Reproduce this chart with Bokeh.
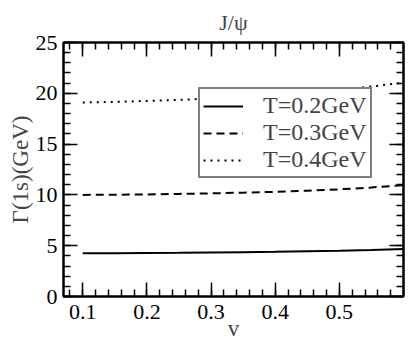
from bokeh.plotting import figure
from bokeh.models import (FixedTicker, LinearAxis, Range1d, Legend, LegendItem, Title)
from bokeh.embed import file_html
from bokeh.resources import INLINE

v = [0.10, 0.15, 0.20, 0.25, 0.30, 0.35, 0.40, 0.45, 0.50, 0.55, 0.60]
gamma_T02 = [4.25, 4.26, 4.28, 4.30, 4.33, 4.36, 4.40, 4.45, 4.50, 4.58, 4.68]
gamma_T03 = [10.00, 10.02, 10.05, 10.10, 10.15, 10.22, 10.30, 10.42, 10.55, 10.73, 10.95]
gamma_T04 = [19.10, 19.15, 19.25, 19.35, 19.50, 19.65, 19.85, 20.08, 20.35, 20.67, 21.05]
labels = ["T=0.2GeV", "T=0.3GeV", "T=0.4GeV"]
x_major = [0.1, 0.2, 0.3, 0.4, 0.5]
x_minor = [round(0.08 + 0.02 * i, 2) for i in range(27)]
y_major = [0, 5, 10, 15, 20, 25]
y_minor = list(range(0, 26))

FONT = "Liberation Serif"

p = figure(width=407, height=343, output_backend="svg", toolbar_location=None,
           x_range=Range1d(0.07, 0.6), y_range=Range1d(0, 25),
           min_border_left=63, min_border_right=4, min_border_top=41, min_border_bottom=47,
           x_axis_label="v", y_axis_label="Γ(1s)(GeV)")
p.grid.visible = False
p.outline_line_color = "black"
p.outline_line_width = 2

def style_axis(ax, ticks, minor, show_labels):
    ax.ticker = FixedTicker(ticks=ticks, minor_ticks=minor)
    ax.major_tick_in = 14
    ax.major_tick_out = 0
    ax.minor_tick_in = 7
    ax.minor_tick_out = 0
    ax.major_tick_line_width = 1.5
    ax.minor_tick_line_width = 1.5
    ax.major_tick_line_color = "black"
    ax.minor_tick_line_color = "black"
    ax.axis_line_width = 2
    ax.major_label_text_font = FONT
    ax.major_label_text_font_size = "22px"
    ax.major_label_text_color = "black"
    ax.axis_label_text_font = FONT
    ax.axis_label_text_font_size = "23px"
    ax.axis_label_text_font_style = "normal"
    ax.major_label_standoff = 6
    if not show_labels:
        ax.major_label_text_color = None
        ax.major_label_text_font_size = "1px"
        ax.major_label_standoff = 0

style_axis(p.xaxis[0], x_major, x_minor, True)
style_axis(p.yaxis[0], y_major, y_minor, True)
p.xaxis[0].major_label_standoff = 8
p.xaxis[0].axis_label_standoff = -6
p.yaxis[0].axis_label_standoff = 0

top = LinearAxis()
style_axis(top, x_major, x_minor, False)
p.add_layout(top, "above")
right = LinearAxis()
style_axis(right, y_major, y_minor, False)
p.add_layout(right, "right")

p.title = Title(text="J/ψ", align="center", text_font=FONT, text_font_size="22px",
                text_font_style="normal", standoff=15)

r1 = p.line(v, gamma_T02, line_color="black", line_width=2)
r2 = p.line(v, gamma_T03, line_color="black", line_width=2, line_dash="8 5")
r3 = p.line(v, gamma_T04, line_color="black", line_width=2, line_dash="2 5")

legend = Legend(items=[LegendItem(label=labels[0], renderers=[r1]),
                       LegendItem(label=labels[1], renderers=[r2]),
                       LegendItem(label=labels[2], renderers=[r3])],
                location=(135, 118), glyph_width=40, glyph_height=22,
                label_height=22, label_standoff=20, spacing=-3, padding=3,
                margin=0, border_line_color="black", border_line_width=2,
                label_text_font=FONT, label_text_font_size="24px",
                background_fill_alpha=1.0)
p.add_layout(legend)

open("out.html", "w").write(file_html(p, INLINE))
